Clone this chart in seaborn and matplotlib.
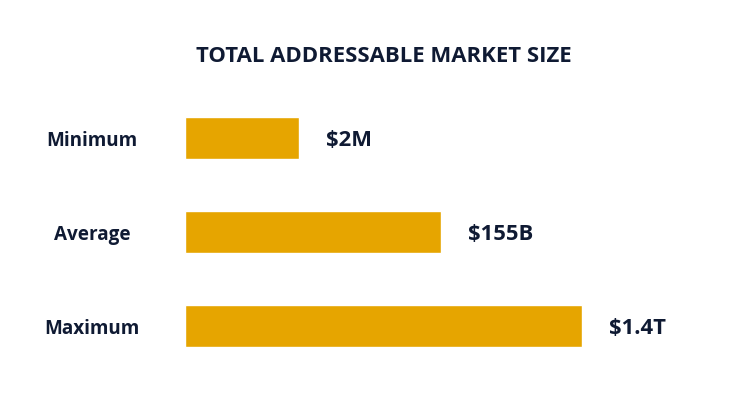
import matplotlib
matplotlib.use("Agg")
import matplotlib.pyplot as plt
import seaborn as sns
import pandas as pd

# data
categories = ["Minimum", "Average", "Maximum"]
bar_length = [114, 256, 397]  # visual bar length as drawn (not to scale)
value_labels = ["$2M", "$155B", "$1.4T"]

navy = "#0f1a33"
gold = "#e6a500"

sns.set_theme(style="white")
plt.rcParams['font.family'] = ['Open Sans', 'DejaVu Sans']

df = pd.DataFrame({"cat": categories, "len": bar_length})

fig = plt.figure(figsize=(7.4, 4.16), dpi=100)
ax = fig.add_axes([185 / 740, 0, 555 / 740, 1])

sns.barplot(data=df, y="cat", x="len", color=gold, width=0.45,
            saturation=1, ax=ax, orient="h")

ax.set_xlim(0, 555)
ax.set_ylim(2 + 90 / 94, -138 / 94)
ax.set_xlabel("")
ax.set_ylabel("")
ax.set_xticks([])
ax.set_yticks([])
sns.despine(ax=ax, left=True, bottom=True)

for i, (cat, L, lab) in enumerate(zip(categories, bar_length, value_labels)):
    ax.text(L + 27, i + 0.03, lab, ha="left", va="center", fontsize=15.8,
            fontweight="bold", color=navy)
    ax.text(-93, i + 0.035, cat, ha="center", va="center", fontsize=13.6,
            fontweight="bold", color=navy, clip_on=False)

fig.text(384 / 740, 1 - 57 / 416, "TOTAL ADDRESSABLE MARKET SIZE",
         ha="center", va="center", fontsize=15.9, fontweight="bold", color=navy)

fig.savefig("out.png", dpi=100, facecolor="white")
